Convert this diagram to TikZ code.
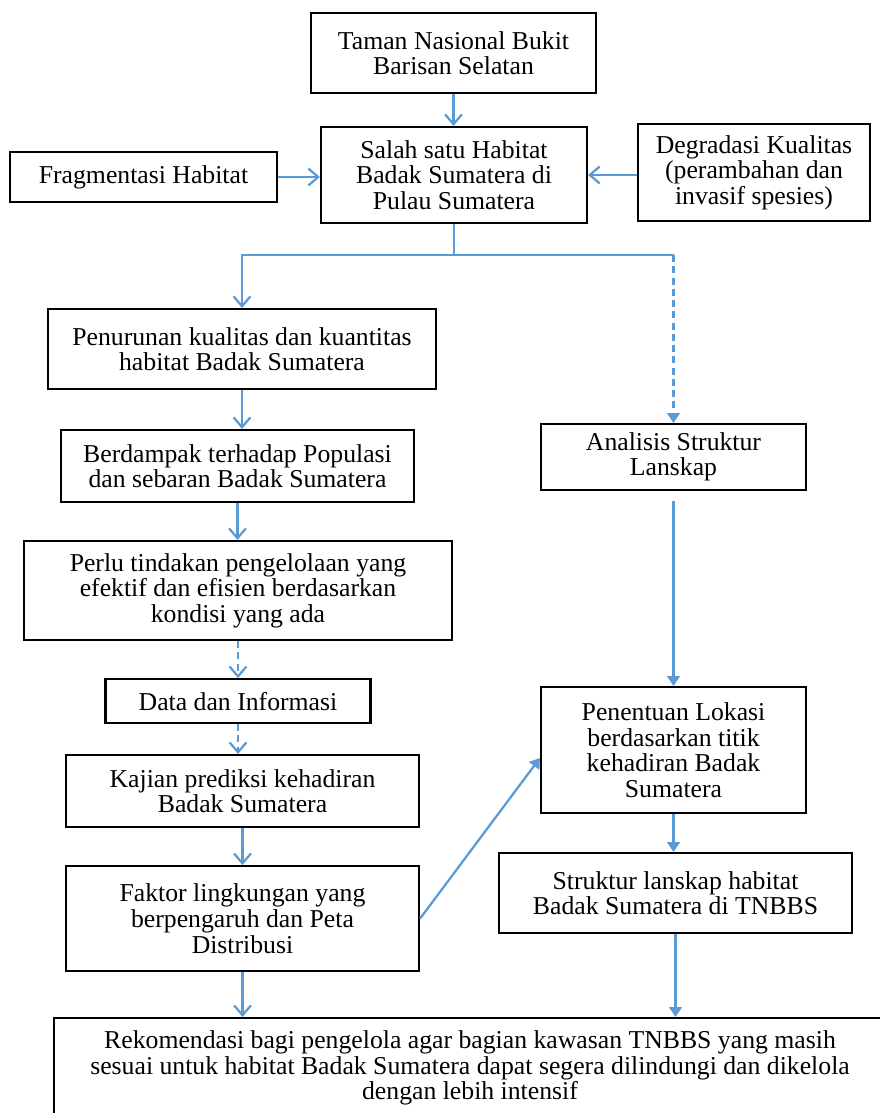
\documentclass[tikz,border=0pt]{standalone}
\usepackage{fontspec}
\setmainfont{Liberation Serif}
\usepackage{xcolor}
\usetikzlibrary{arrows.meta,positioning,calc}
\definecolor{lnk}{RGB}{91,155,213}

\begin{document}
\begin{tikzpicture}[
    box/.style={draw=black, line width=1.5pt, fill=white, inner sep=0pt,
                align=center, font=\fontsize{18.3pt}{18.2pt}\selectfont},
    arr/.style={-{Straight Barb[length=7pt,width=12pt]}, line width=1.6pt, lnk},
    tarr/.style={-{Triangle[length=7pt,width=9pt]}, line width=1.6pt, lnk},
    darr/.style={arr, dash pattern=on 5pt off 3pt},
    dtarr/.style={tarr, dash pattern=on 5pt off 3pt},
    ln/.style={line width=1.6pt, lnk}]

    \useasboundingbox (0,0) rectangle (22,-27.825);

    % ── top row ──────────────────────────────────────────────
    \node[box, minimum width=7.125cm, minimum height=2.0cm] (taman) at (11.3375,-1.325)
      {Taman Nasional Bukit\\Barisan Selatan};
    \node[box, minimum width=6.65cm, minimum height=2.4cm] (salah) at (11.35,-4.375)
      {Salah satu Habitat\\Badak Sumatera di\\Pulau Sumatera};
    \node[box, minimum width=6.675cm, minimum height=1.25cm] (frag) at (3.5875,-4.425)
      {Fragmentasi Habitat};
    \node[box, minimum width=5.8cm, minimum height=2.425cm] (degr) at (18.85,-4.3125)
      {Degradasi Kualitas\\(perambahan dan\\invasif spesies)};
    \draw[arr] (taman.south) -- (taman.south |- salah.north);
    \draw[arr] (frag.east) -- (frag.east -| salah.west);
    \draw[arr] (degr.west |- salah.east) -- (salah.east);

    % ── left column ──────────────────────────────────────────
    \node[box, minimum width=9.7cm, minimum height=2.0cm] (penur) at (6.05,-8.725)
      {Penurunan kualitas dan kuantitas\\habitat Badak Sumatera};
    \node[box, minimum width=8.825cm, minimum height=1.8cm] (berd) at (5.9375,-11.65)
      {Berdampak terhadap Populasi\\dan sebaran Badak Sumatera};
    \node[box, minimum width=10.7cm, minimum height=2.475cm] (perlu) at (5.95,-14.7625)
      {Perlu tindakan pengelolaan yang\\efektif dan efisien berdasarkan\\kondisi yang ada};
    \node[box, minimum width=6.625cm, minimum height=1.1cm, below=0.925cm of perlu] (data)
      {Data dan Informasi};
    \node[box, minimum width=8.825cm, minimum height=1.8cm] (kajian) at (6.0625,-19.775)
      {Kajian prediksi kehadiran\\Badak Sumatera};
    \node[box, minimum width=8.825cm, minimum height=2.625cm, below=0.925cm of kajian] (faktor)
      {Faktor lingkungan yang\\berpengaruh dan Peta\\Distribusi};
    \draw[arr] (penur.south) -- (penur.south |- berd.north);
    \draw[arr] (berd.south) -- (berd.south |- perlu.north);
    \draw[darr] (perlu.south) -- (perlu.south |- data.north);
    \draw[darr] (data.south) -- (data.south |- kajian.north);
    \draw[arr] (kajian.south) -- (kajian.south |- faktor.north);

    % ── right column ─────────────────────────────────────────
    \node[box, minimum width=6.625cm, minimum height=1.65cm] (anal) at (16.8375,-11.425)
      {Analisis Struktur\\Lanskap};
    \node[box, minimum width=6.625cm, minimum height=3.15cm] (penent) at (16.8375,-18.75)
      {Penentuan Lokasi\\berdasarkan titik\\kehadiran Badak\\Sumatera};
    \node[box, minimum width=8.825cm, minimum height=2.0cm] (struk) at (16.8875,-22.325)
      {Struktur lanskap habitat\\Badak Sumatera di TNBBS};
    \draw[tarr, shorten <=0.25cm] (anal.south) -- (anal.south |- penent.north);
    \draw[tarr] (penent.south) -- (penent.south |- struk.north);
    \draw[tarr] (faktor.east) -- ([yshift=-0.2cm]penent.west);

    % branch from habitat box
    \draw[ln] (salah.south) -- ++(0,-0.775) coordinate (br);
    \draw[arr] (br) -| (penur.north);
    \draw[ln] (br) -- (br -| anal.north) coordinate (bd);
    \draw[dtarr] (bd) -- (anal.north);

    % ── bottom ───────────────────────────────────────────────
    \node[box, minimum width=20.8cm, minimum height=2.5cm] (rekom) at (11.75,-26.7)
      {Rekomendasi bagi pengelola agar bagian kawasan TNBBS yang masih\\sesuai untuk habitat Badak Sumatera dapat segera dilindungi dan dikelola\\dengan lebih intensif};
    \draw[arr] (faktor.south) -- (faktor.south |- rekom.north);
    \draw[tarr] (struk.south) -- (struk.south |- rekom.north);

\end{tikzpicture}
\end{document}
